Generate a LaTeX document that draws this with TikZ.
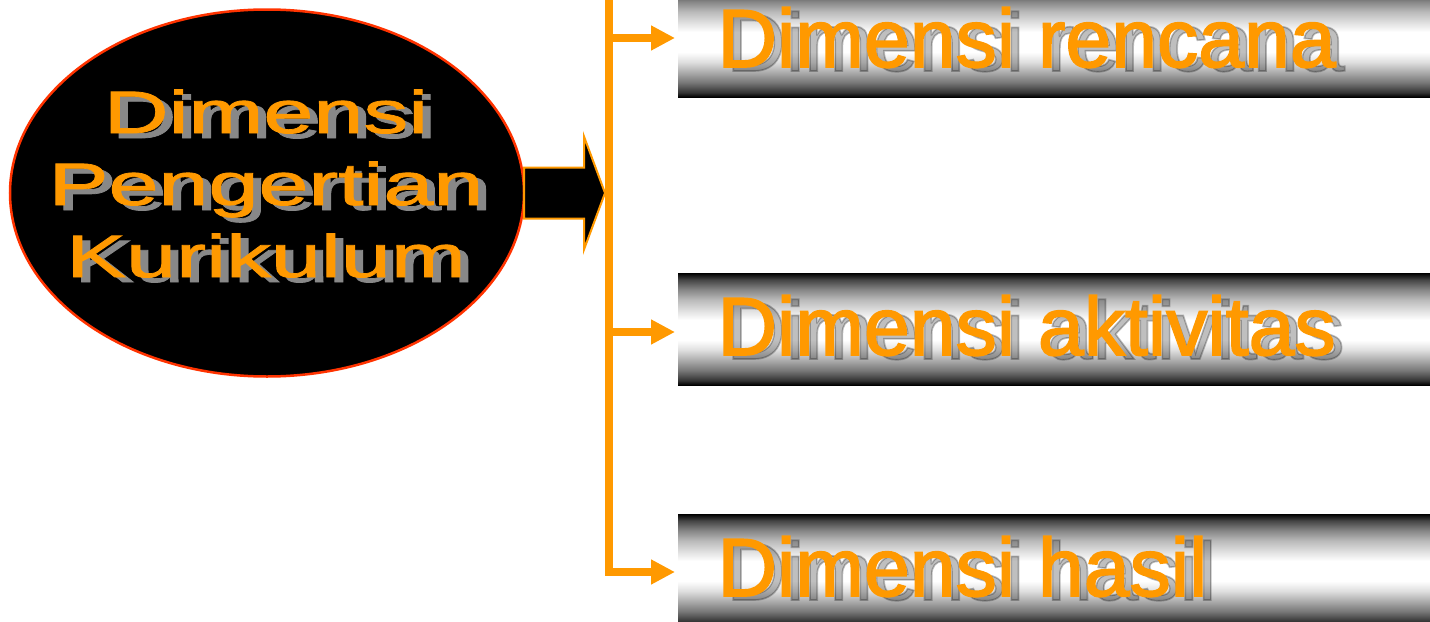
\documentclass[tikz,border=0pt]{standalone}
\usepackage{fontspec}
\setmainfont{Liberation Sans}
\newfontfamily\heavysans{Liberation Sans}[FakeBold=2]
\newfontfamily\midsans{Liberation Sans}[FakeBold=1.2]
\usepackage{xcolor}
\usetikzlibrary{shapes.geometric,arrows.meta}
\definecolor{orng}{HTML}{FF9900}
\definecolor{rimred}{HTML}{FF3300}
\definecolor{dropgray}{HTML}{888888}
\pgfdeclareverticalshading{barshade}{100bp}{color(0bp)=(black); color(25bp)=(black); color(27bp)=(white!20!black); color(31.5bp)=(white!47!black); color(36bp)=(white!67!black); color(40.5bp)=(white!87!black); color(45bp)=(white); color(54bp)=(white); color(58.5bp)=(white!87!black); color(63bp)=(white!73!black); color(67.5bp)=(white!53!black); color(72bp)=(white!27!black); color(75bp)=(black); color(100bp)=(black)}

\begin{document}
\begin{tikzpicture}[every node/.style={inner sep=0pt, outer sep=0pt},
        big/.style={ellipse, fill=black, draw=rimred, line width=0.05cm, minimum width=10.28cm, minimum height=7.34cm},
        eltext/.style={anchor=base, font=\midsans\fontsize{34.1pt}{40pt}\selectfont, text=orng},
        dimbox/.style={rectangle, minimum width=15.04cm, minimum height=2.24cm, shading=barshade},
        boxtext/.style={anchor=base west, font=\heavysans\fontsize{46.9pt}{52pt}\selectfont, text=orng},
        spine/.style={orng, line width=0.16cm, -{Triangle[length=0.48cm,width=0.47cm]}, shorten >=0.06cm}]
    \path[use as bounding box, clip] (0,0) rectangle (28.6,-12.44);

    \node[big] (pengertian) at (5.34,-3.86) {};
    \foreach \w/\y [count=\i] in {Dimensi/-2.66, Pengertian/-4.10, Kurikulum/-5.54} {
        \node[eltext, text=dropgray] (drop-\i) at (5.48,\y-0.1) {\scalebox{1.5}[1]{\w}};
        \node[eltext] (word-\i) at (5.32,\y) {\scalebox{1.5}[1]{\w}};
    }
    \draw[fill=black, draw=orng, line width=0.04cm] ([yshift=0.51cm]pengertian.east) -- ++(1.2,0) -- ++(0,0.62)
        -- ++(0.42,-1.13) -- ++(-0.42,-1.13) -- ++(0,0.62) -- ++(-1.2,0) -- cycle;

    \foreach \n/\t/\y in {rencana/Dimensi rencana/-0.82, aktivitas/Dimensi aktivitas/-6.58, hasil/Dimensi hasil/-11.40} {
        \node[dimbox] (\n) at (21.08,\y) {};
        \node[boxtext, text=black, text opacity=0.25] (\n-drop) at ([shift={(0.97,0.52)}]\n.south west) {\t};
        \node[boxtext] (\n-text) at ([shift={(0.79,0.6)}]\n.south west) {\t};
    }

    \coordinate (top) at (12.18,0.3);
    \draw[spine] (top) |- ([yshift=-0.04cm]hasil.west);
    \draw[spine] ([yshift=0.06cm]top |- rencana.west) -- ([yshift=0.06cm]rencana.west);
    \draw[spine] ([yshift=-0.06cm]top |- aktivitas.west) -- ([yshift=-0.06cm]aktivitas.west);
\end{tikzpicture}
\end{document}
